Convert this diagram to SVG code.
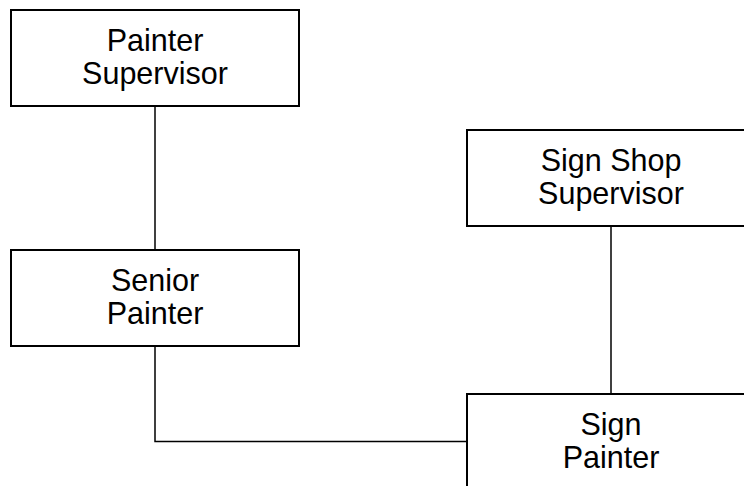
<svg xmlns="http://www.w3.org/2000/svg" width="744" height="486" viewBox="0 0 744 486">
<style>
.box{fill:#fff;stroke:#000;stroke-width:2}
.con{fill:none;stroke:#000;stroke-width:1.5}
text{font-family:"Liberation Sans",Arial,sans-serif;font-size:30.5px;fill:#000;text-anchor:middle}
</style>
<rect width="744" height="486" fill="#fff"/>
<g id="connectors">
<line class="con" x1="155" y1="106" x2="155" y2="250"/>
<line class="con" x1="611" y1="226" x2="611" y2="394"/>
<polyline class="con" points="155,346 155,441.5 467,441.5"/>
</g>
<g id="painter-supervisor">
<rect class="box" x="11" y="10" width="288" height="96"/>
<text x="155" y="51">Painter</text>
<text x="155" y="84">Supervisor</text>
</g>
<g id="sign-shop-supervisor">
<rect class="box" x="467" y="130" width="288" height="96"/>
<text x="611" y="171">Sign Shop</text>
<text x="611" y="204">Supervisor</text>
</g>
<g id="senior-painter">
<rect class="box" x="11" y="250" width="288" height="96"/>
<text x="155" y="291">Senior</text>
<text x="155" y="324">Painter</text>
</g>
<g id="sign-painter">
<rect class="box" x="467" y="394" width="288" height="96"/>
<text x="611" y="435">Sign</text>
<text x="611" y="468">Painter</text>
</g>
</svg>
